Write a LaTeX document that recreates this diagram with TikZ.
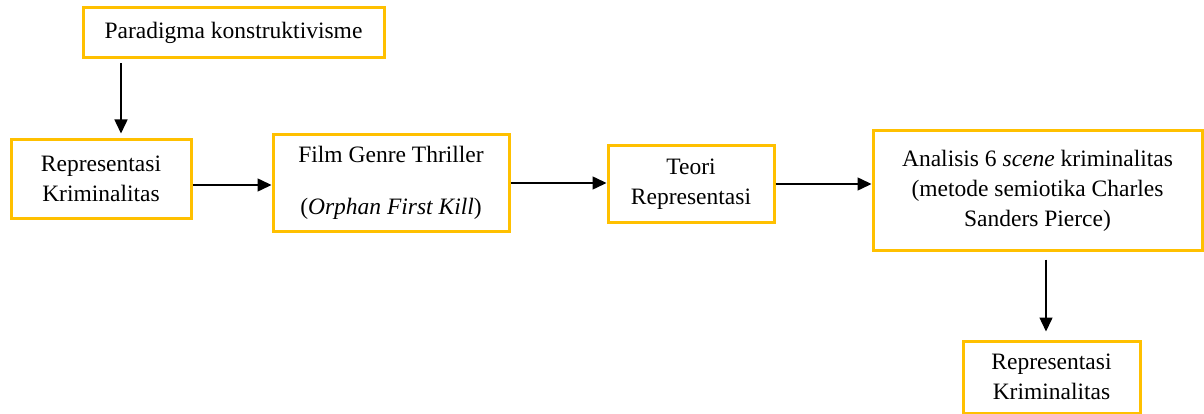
\documentclass[tikz,border=0pt]{standalone}
\usepackage{fontspec}
\setmainfont{Liberation Serif}
\newfontfamily\tnr{Liberation Serif}
\usetikzlibrary{arrows.meta}
\definecolor{boxgold}{RGB}{255,192,0}
\tikzset{
  box/.style={draw=boxgold, line width=3pt, rectangle, inner sep=0pt, align=center,
    font=\tnr\fontsize{23.5}{30}\selectfont, fill=white},
  arr/.style={draw=black, line width=1.5pt, -{Triangle[length=14pt,width=13pt]}},
}
\begin{document}
\begin{tikzpicture}[x=1pt,y=-1pt]
\useasboundingbox (0,0) rectangle (1204,414);
\fill[white] (0,0) rectangle (1204,414);
\node[box, minimum width=301pt, minimum height=50pt] (par) at (233.5,33) {Paradigma konstruktivisme};
\node[box, minimum width=180pt, minimum height=78pt] (rep1) at (101,179) {Representasi\\Kriminalitas};
\node[box, minimum width=236pt, minimum height=96pt] (film) at (391,183) {Film Genre Thriller\\[22pt](\textit{Orphan First Kill})};
\node[box, minimum width=166pt, minimum height=76pt] (teori) at (691,184) {Teori\\Representasi};
\node[box, minimum width=329pt, minimum height=119pt] (anal) at (1037.5,190.5) {Analisis 6 \textit{scene} kriminalitas\\(metode semiotika Charles\\Sanders Pierce)};
\node[box, minimum width=177pt, minimum height=72pt] (rep2) at (1051.5,377) {Representasi\\Kriminalitas};
\draw[arr] ([xshift=-112.5pt,yshift=-4pt]par.south) -- ([xshift=20pt,yshift=5pt]rep1.north);
\draw[arr] ([yshift=-6pt]rep1.east) -- ([yshift=-2pt]film.west);
\draw[arr] (film.east) -- (teori.west |- film.east);
\draw[arr] (teori.east) -- (anal.west |- teori.east);
\draw[arr] ([xshift=8.5pt,yshift=-8pt]anal.south) -- ([xshift=-5.5pt,yshift=8pt]rep2.north);
\end{tikzpicture}
\end{document}
